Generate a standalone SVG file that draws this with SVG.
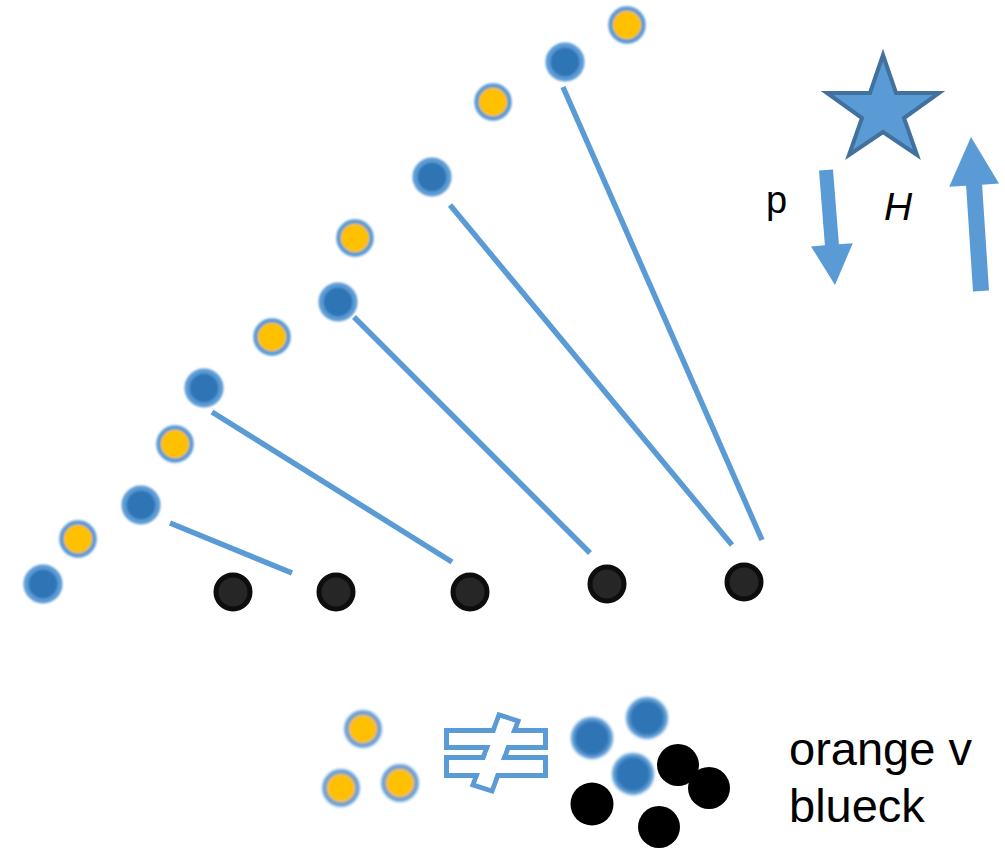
<svg xmlns="http://www.w3.org/2000/svg" width="1005" height="849" viewBox="0 0 1005 849">
  <defs>
    <filter id="soft" x="-30%" y="-30%" width="160%" height="160%">
      <feGaussianBlur stdDeviation="0.9"/>
    </filter>
    <filter id="softer" x="-40%" y="-40%" width="180%" height="180%">
      <feGaussianBlur stdDeviation="1.8"/>
    </filter>
  </defs>
  <style>
    .blue { fill: #2E75B6; stroke: #5B9BD5; stroke-width: 5; filter: url(#soft); }
    .orange { fill: #FFC000; stroke: #5B9BD5; stroke-width: 4.5; filter: url(#soft); }
    .black { fill: #262626; stroke: #0D0D0D; stroke-width: 5; }
    .link { stroke: #5B9BD5; stroke-width: 5.5; fill: none; }
    .arrow { fill: #5B9BD5; }
    .label { font-family: "Liberation Sans", Arial, sans-serif; fill: #000; }
    .blob-blue { fill: #2E75B6; stroke: #5B9BD5; stroke-width: 4; filter: url(#softer); }
    .blob-orange { fill: #FFC000; stroke: #5B9BD5; stroke-width: 4.5; filter: url(#softer); }
    .neq-line { fill: none; stroke: #5B9BD5; stroke-width: 5; stroke-linejoin: miter; }
    .neq-fill { fill: #FFFFFF; stroke: none; }
  </style>

  <!-- connectors -->
  <g id="connectors">
    <line class="link" x1="170" y1="523" x2="292" y2="573"/>
    <line class="link" x1="212" y1="412" x2="452" y2="562"/>
    <line class="link" x1="354" y1="317" x2="590" y2="553"/>
    <line class="link" x1="450" y1="205" x2="732" y2="545"/>
    <line class="link" x1="563" y1="87" x2="762" y2="540"/>
  </g>

  <!-- rising chain of dots -->
  <g id="chain">
    <circle id="b1" class="blue" cx="43" cy="584" r="17"/>
    <circle id="o1" class="orange" cx="78" cy="539" r="16.5"/>
    <circle id="b2" class="blue" cx="141" cy="505" r="17"/>
    <circle id="o2" class="orange" cx="175" cy="444" r="16.5"/>
    <circle id="b3" class="blue" cx="204" cy="388" r="17"/>
    <circle id="o3" class="orange" cx="272" cy="337" r="16.5"/>
    <circle id="b4" class="blue" cx="338" cy="302" r="17"/>
    <circle id="o4" class="orange" cx="355" cy="238" r="16.5"/>
    <circle id="b5" class="blue" cx="432" cy="177" r="17"/>
    <circle id="o5" class="orange" cx="493" cy="102" r="16.5"/>
    <circle id="b6" class="blue" cx="565" cy="62" r="17"/>
    <circle id="o6" class="orange" cx="627" cy="25" r="16.5"/>
  </g>

  <!-- base row -->
  <g id="base">
    <circle id="k1" class="black" cx="233" cy="592" r="17"/>
    <circle id="k2" class="black" cx="336" cy="592" r="17"/>
    <circle id="k3" class="black" cx="470" cy="592" r="17"/>
    <circle id="k4" class="black" cx="607" cy="584" r="17"/>
    <circle id="k5" class="black" cx="744" cy="582" r="17"/>
  </g>

  <!-- star with arrows -->
  <g id="star">
    <polygon points="883,55 896,93 939,93 904,118 917,155 883,132 849,155 862,118 827,93 870,93" fill="#5B9BD5" stroke="#41719C" stroke-width="4" stroke-linejoin="miter"/>
  </g>
  <g id="arrow-down">
    <polygon class="arrow" points="819,170.5 833,169.5 838.9,244.3 852.8,243.2 835,285 811,246.4 824.9,245.3"/>
  </g>
  <g id="arrow-up">
    <polygon class="arrow" points="973,291.5 989,290.5 982.1,184.7 999,183.6 971,137 949.2,186.8 966.1,185.7"/>
  </g>
  <g id="label-p">
    <text class="label" x="766" y="213" font-size="38">p</text>
  </g>
  <g id="label-h">
    <text class="label" x="884" y="220" font-size="39" font-style="italic">H</text>
  </g>

  <!-- bottom comparison -->
  <g id="orange-group">
    <circle class="blob-orange" cx="363" cy="729" r="16.5"/>
    <circle class="blob-orange" cx="341" cy="788" r="16.5"/>
    <circle class="blob-orange" cx="400" cy="783" r="16.5"/>
  </g>

  <g id="not-equal">
    <rect class="neq-line" x="446.5" y="730.5" width="99" height="17"/>
    <rect class="neq-line" x="446.5" y="757.5" width="99" height="18"/>
    <polygon class="neq-line" points="499,715 518,721 492,791 473,785"/>
    <rect class="neq-fill" x="449" y="733" width="94" height="12"/>
    <rect class="neq-fill" x="449" y="760" width="94" height="13"/>
    <polygon class="neq-fill" points="500.5,718 514.8,722.6 490.5,787.9 476.2,783.3"/>
  </g>

  <g id="mixed-group">
    <circle class="blob-blue" cx="592" cy="738" r="19"/>
    <circle class="blob-blue" cx="647" cy="718" r="19"/>
    <circle class="blob-blue" cx="633" cy="774" r="19"/>
    <circle fill="#000" cx="678" cy="765" r="21"/>
    <circle fill="#000" cx="709" cy="788" r="21"/>
    <circle fill="#000" cx="592" cy="804" r="21.5"/>
    <circle fill="#000" cx="659" cy="827" r="21"/>
  </g>

  <g id="caption">
    <text class="label" x="789" y="765" font-size="47">orange v</text>
    <text class="label" x="789" y="822" font-size="47">blueck</text>
  </g>
</svg>
